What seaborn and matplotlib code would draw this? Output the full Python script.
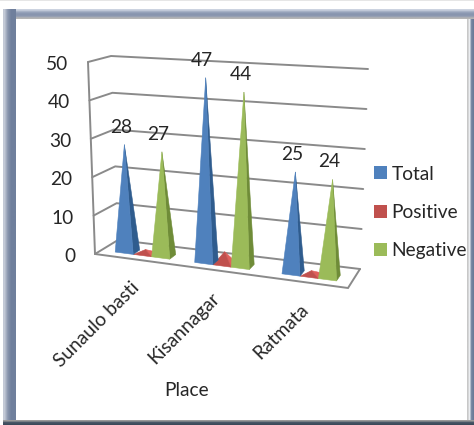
import numpy as np
import matplotlib
matplotlib.use("Agg")
import matplotlib.pyplot as plt
from matplotlib.patches import Polygon, Patch
from matplotlib.colors import to_rgb
import seaborn as sns

# Survey counts per place
places = ["Sunaulo basti", "Kisannagar", "Ratmata"]
total = [28, 47, 25]
positive = [1, 3, 1]
negative = [27, 44, 24]
value_ticks = [0, 10, 20, 30, 40, 50]

sns.set_theme(style="white")
plt.rcParams["font.family"] = ["Lato", "DejaVu Sans"]
TEXT = "#262626"
GRID = "#8a8a8a"
FONT = 13.8

series_names = ["Total", "Positive", "Negative"]
palette = sns.color_palette(["#4F81BD", "#C0504D", "#9BBB59"])
side_palette = sns.color_palette(["#2F5C8E", "#E0605C", "#6F8C38"])

# Oblique projection of the chart box: floor corners and the lean of each vertical edge
floor = {"fl": (95, 254), "fr": (348, 288), "bl": (118, 240), "br": (360, 269)}
rise = {"fl": (-0.14, -3.84), "fr": (0.16, -4.16), "bl": (-0.14, -3.68), "br": (0.16, -4.0)}


def bilinear(c, u, d):
    c = {k: np.array(p, float) for k, p in c.items()}
    return (1 - d) * ((1 - u) * c["fl"] + u * c["fr"]) + d * ((1 - u) * c["bl"] + u * c["br"])


def project(u, d, v):
    """Map box coordinates (across, depth, value) to figure pixels."""
    return bilinear(floor, u, d) + v * bilinear(rise, u, d)


fig = plt.figure(figsize=(4.74, 4.25), dpi=100, facecolor="white")
ax = fig.add_axes([0, 0, 1, 1])
ax.set_axis_off()


def band(x0, x1, y0, y1, stops, vertical):
    """Shaded strip of the picture frame."""
    rgb = np.array([to_rgb(s) for s in stops])
    img = rgb[:, None, :] if vertical else rgb[None, :, :]
    ax.imshow(img, extent=(x0, x1, y1, y0), aspect="auto",
              interpolation="bilinear", zorder=1)


band(0, 474, 0, 2, ["#e6e6e6", "#ffffff"], True)
band(3, 474, 9, 19, ["#ccd3e0", "#9aa6bd", "#8794ae", "#8d99b1", "#b5b5b5"], True)
band(3, 16, 9, 425, ["#c3c9d6", "#8a96ae", "#6f7f9c", "#6f7f9c"], False)
band(467, 474, 19, 425, ["#c8c8c8", "#eef0f4", "#7c8ba6", "#6b7b98"], False)
band(3, 474, 420, 425, ["#9a9a9a", "#4a5868", "#3c4a5a"], True)

# Walls and floor of the box
for v in value_ticks:
    bl, br, fl = project(0, 1, v), project(1, 1, v), project(0, 0, v)
    ax.plot([fl[0], bl[0], br[0]], [fl[1], bl[1], br[1]], color=GRID, lw=1.4, zorder=2,
            solid_joinstyle="miter")
    ax.text(fl[0] - 19.5, fl[1] + 2.5, str(v), ha="right", va="center",
            fontsize=FONT, color=TEXT, zorder=6)
edge = np.array([project(0, 0, 50), project(0, 0, 0), project(1, 0, 0), project(1, 1, 0)])
ax.plot(edge[:, 0], edge[:, 1], color=GRID, lw=1.4, zorder=2, solid_joinstyle="miter")

category_u = [0.165, 0.483, 0.832]
series_offset = {"Positive": 0.0, "Total": -0.073, "Negative": 0.073}
half_width = 0.036
depth_span = (0.27, 0.57)


def pyramid(u, v, front, side, z):
    d0, d1 = depth_span
    apex = project(u, (d0 + d1) / 2, v)
    fl, fr = project(u - half_width, d0, 0), project(u + half_width, d0, 0)
    br = project(u + half_width, d1, 0)
    ax.add_patch(Polygon([fr, br, apex], closed=True, fc=side, ec=side, lw=0.4, zorder=z))
    ax.add_patch(Polygon([fl, fr, apex], closed=True, fc=front, ec=front, lw=0.4, zorder=z))


# Positive sits behind its neighbours, then Total, then Negative
draw_order = [("Positive", positive, 1), ("Total", total, 0), ("Negative", negative, 2)]
for z, (name, values, idx) in enumerate(draw_order):
    for u0, v in zip(category_u, values):
        pyramid(u0 + series_offset[name], v, palette[idx], side_palette[idx], 3 + z)

# Value labels above the Total and Negative peaks
for name, values in (("Total", total), ("Negative", negative)):
    for u0, v in zip(category_u, values):
        x, y = project(u0 + series_offset[name], 0.42, v)
        ax.text(x - 3.5, y - 17.5, str(v), ha="center", va="center",
                fontsize=FONT, color=TEXT, zorder=7)

# Slanted place names hanging below the front edge
for u0, name in zip(category_u, places):
    x, y = project(u0, 0, 0)
    ax.text(x, y + 25, name, rotation=45, rotation_mode="anchor", ha="right",
            va="center", fontsize=FONT, color=TEXT, zorder=6)

ax.text(187, 391, "Place", ha="center", va="center", fontsize=FONT, color=TEXT, zorder=6)

handles = [Patch(fc=c, ec="none", label=n) for c, n in zip(palette, series_names)]
ax.legend(handles=handles, loc="center left", bbox_to_anchor=(374.5, 212.5),
          bbox_transform=ax.transData, frameon=False, fontsize=FONT, labelcolor=TEXT,
          handlelength=0.64, handleheight=0.64, handletextpad=0.25, labelspacing=1.12,
          borderpad=0, borderaxespad=0)

ax.set_xlim(0, 474)
ax.set_ylim(425, 0)
fig.savefig("out.png", dpi=100, facecolor="white")
